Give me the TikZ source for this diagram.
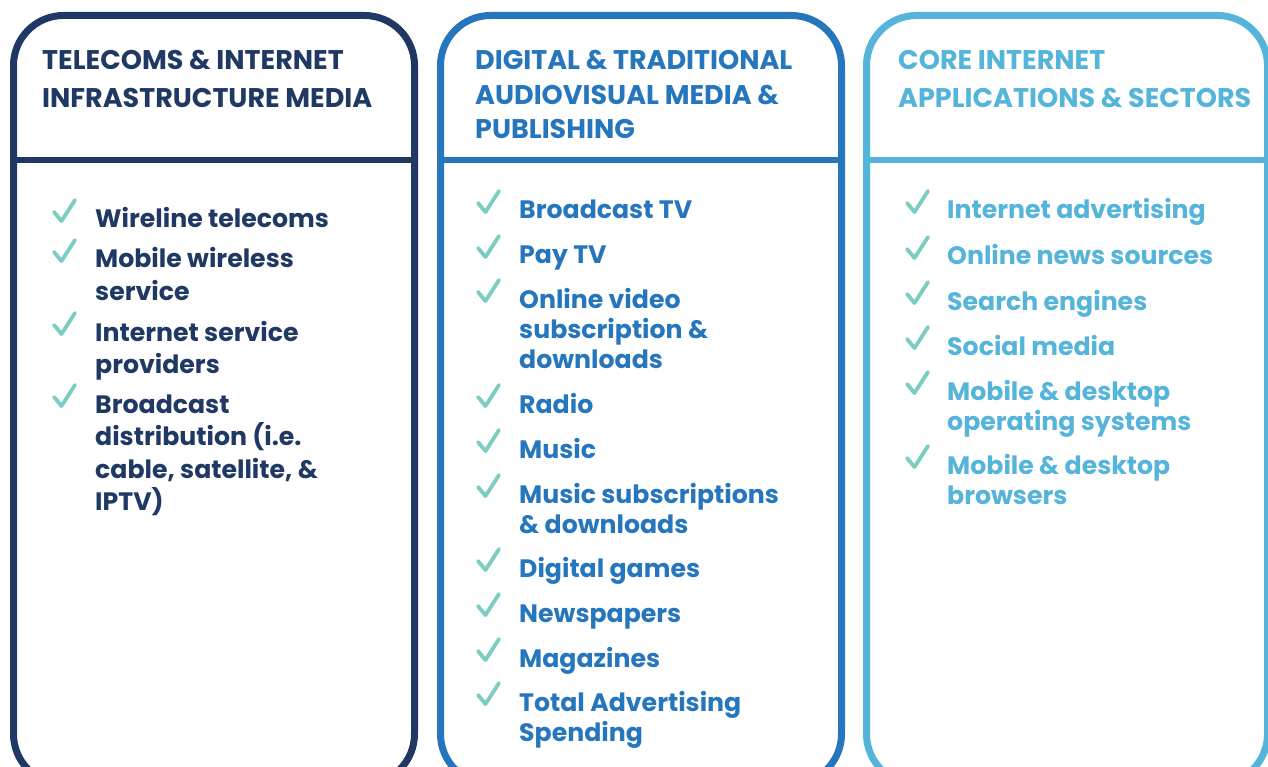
\documentclass[tikz,border=0pt]{standalone}
\usepackage{fontspec}
\setmainfont{Poppins}
\usepackage{tikz}
\usetikzlibrary{positioning}
\definecolor{navyblue}{RGB}{31,56,100}
\definecolor{midblue}{RGB}{38,118,189}
\definecolor{skyblue}{RGB}{85,180,218}
\definecolor{tickgreen}{RGB}{122,205,192}

\tikzset{
  panel/.style={draw=#1, line width=7pt, rounded corners=50pt},
  divider/.style={draw=#1, line width=6.5pt},
  heading/.style={text=#1, font=\fontsize{27}{38}\selectfont\bfseries,
                  align=left, anchor=base west, inner sep=0pt},
  item/.style={text=#1, font=\fontsize{25.2}{32.5}\selectfont\bfseries,
               align=left, anchor=base west, inner sep=0pt},
  tightitem/.style={item=#1, font=\fontsize{25.2}{30}\selectfont\bfseries},
  tickmark/.pic={\draw[tickgreen, line width=3.8pt, line cap=round, line join=round]
                   (0,0) -- (7.5,9) -- (21,-12);}
}

\begin{document}
\begin{tikzpicture}[x=1pt, y=-1pt]
  \clip (0,0) rectangle (1268,767);
  % three panels
  \draw[panel=navyblue] (13.5,15.5) rectangle (414.5,784);
  \draw[divider=navyblue] (13.5,160) -- (414.5,160);
  \draw[panel=midblue] (440.5,15.5) rectangle (841.5,784);
  \draw[divider=midblue] (440.5,160) -- (841.5,160);
  \draw[panel=skyblue] (866.5,15.5) rectangle (1267.5,784);
  \draw[divider=skyblue] (866.5,160) -- (1267.5,160);

  % headings (anchored at the baseline of their last line)
  \node[heading=navyblue] (telecomshead) at (42,108)
    {TELECOMS \& INTERNET\\INFRASTRUCTURE MEDIA};
  \node[heading=midblue, font=\fontsize{27}{34.5}\selectfont\bfseries] (mediahead) at (475,139)
    {DIGITAL \& TRADITIONAL\\AUDIOVISUAL MEDIA \&\\PUBLISHING};
  \node[heading=skyblue] (corehead) at (898,108)
    {CORE INTERNET\\APPLICATIONS \& SECTORS};

  % telecoms items
  \node[item=navyblue] (wireline) at (95,228) {Wireline telecoms};
  \node[item=navyblue] (mobile) at (95,300.5) {Mobile wireless\\service};
  \node[item=navyblue] (isp) at (95,373.5) {Internet service\\providers};
  \node[item=navyblue] (distribution) at (95,510.5)
    {Broadcast\\distribution (i.e.\\cable, satellite, \&\\IPTV)};
  \foreach \y [count=\i] in {212,252,325,397}
    \pic (telecomstick\i) at (54,\y) {tickmark};

  % media items
  \node[item=midblue] (broadcasttv) at (519,219) {Broadcast TV};
  \node[item=midblue] (paytv) at (519,264) {Pay TV};
  \node[tightitem=midblue] (onlinevideo) at (519,368)
    {Online video\\subscription \&\\downloads};
  \node[item=midblue] (radio) at (519,413) {Radio};
  \node[item=midblue] (music) at (519,458) {Music};
  \node[tightitem=midblue] (musicsubs) at (519,533)
    {Music subscriptions\\\& downloads};
  \node[item=midblue] (games) at (519,577) {Digital games};
  \node[item=midblue] (newspapers) at (519,622) {Newspapers};
  \node[item=midblue] (magazines) at (519,667) {Magazines};
  \node[tightitem=midblue] (adspend) at (519,741)
    {Total Advertising\\Spending};
  \foreach \y [count=\i] in {203,248,292,397,442,487,561,606,651,695}
    \pic (mediatick\i) at (478,\y) {tickmark};

  % core internet items
  \node[item=skyblue] (netads) at (947,219) {Internet advertising};
  \node[item=skyblue] (news) at (947,265) {Online news sources};
  \node[item=skyblue] (search) at (947,310) {Search engines};
  \node[item=skyblue] (social) at (947,355) {Social media};
  \node[tightitem=skyblue] (os) at (947,430)
    {Mobile \& desktop\\operating systems};
  \node[tightitem=skyblue] (browsers) at (947,504)
    {Mobile \& desktop\\browsers};
  \foreach \y [count=\i] in {203,249,294,339,384,458}
    \pic (coretick\i) at (907,\y) {tickmark};
\end{tikzpicture}
\end{document}
